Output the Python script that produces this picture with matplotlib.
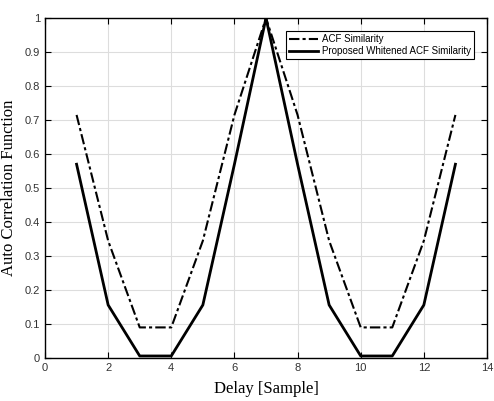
import numpy as np
import matplotlib
matplotlib.use('Agg')
import matplotlib.pyplot as plt

delay = [1, 2, 3, 4, 5, 6, 7, 8, 9, 10, 11, 12, 13]
acf = [0.715, 0.345, 0.09, 0.09, 0.345, 0.715, 1.0, 0.715, 0.345, 0.09, 0.09, 0.345, 0.715]
whitened = [0.57, 0.156, 0.006, 0.006, 0.156, 0.57, 1.0, 0.57, 0.156, 0.006, 0.006, 0.156, 0.57]

DPI = 100
fig = plt.figure(figsize=(4.94, 4.01), dpi=DPI)
ax = fig.add_axes([0.0911, 0.1072, 0.8947, 0.8478])

ax.plot(delay, acf, color='k', linestyle=(0, (5, 1.5, 1.5, 1.5)), linewidth=1.5, label='ACF Similarity')
ax.plot(delay, whitened, color='k', linestyle='-', linewidth=2, label='Proposed Whitened ACF Similarity')

ax.set_xlim(0, 14)
ax.set_ylim(0, 1)
ax.set_xticks(np.arange(0, 15, 2))
ax.set_yticks(np.arange(0, 1.01, 0.1))
ax.set_yticklabels(['0', '0.1', '0.2', '0.3', '0.4', '0.5', '0.6', '0.7', '0.8', '0.9', '1'])
ax.grid(True, color='#dddddd', linewidth=0.8)
ax.tick_params(direction='in', top=True, right=True, length=4, labelsize=8, colors='k')
for lbl in ax.get_xticklabels() + ax.get_yticklabels():
    lbl.set_family('Liberation Sans')
    lbl.set_color('#333333')
for s in ax.spines.values():
    s.set_linewidth(1.0)

ax.set_xlabel('Delay [Sample]', family='Liberation Serif', fontsize=12)
ax.set_ylabel('Auto Correlation Function', family='Liberation Serif', fontsize=12)
ax.xaxis.set_label_coords(0.5, -0.068)
ax.yaxis.set_label_coords(-0.063, 0.5)

leg = ax.legend(loc='upper right', prop={'family': 'Liberation Sans', 'size': 7},
                fancybox=False, framealpha=1, edgecolor='k', handlelength=3,
                borderpad=0.3, labelspacing=0.2, handletextpad=0.4,
                bbox_to_anchor=(0.982, 0.975))
leg.get_frame().set_linewidth(0.8)

fig.savefig('out.png', dpi=DPI)
